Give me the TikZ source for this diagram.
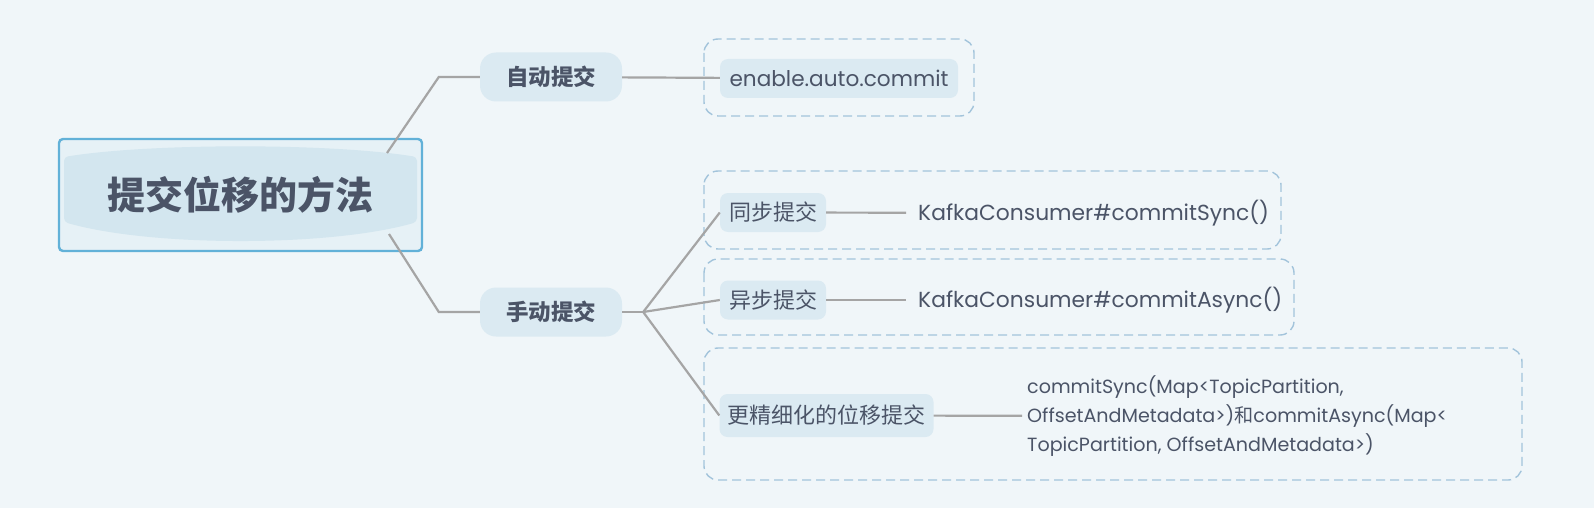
\documentclass[tikz,border=0pt]{standalone}
\usepackage{fontspec}
\setmainfont{Poppins}
\newfontfamily\cjk{Noto Sans CJK SC}
\usepackage{tikz}
\usetikzlibrary{positioning,calc}
\definecolor{PaperBlue}{HTML}{F0F6F9}
\definecolor{RootBorder}{HTML}{62B1D8}
\definecolor{RootFill}{HTML}{E6F1F6}
\definecolor{LensBlue}{HTML}{D3E6EF}
\definecolor{SoftBlue}{HTML}{DBEAF2}
\definecolor{DashBlue}{HTML}{A3C4DB}
\definecolor{InkGray}{HTML}{4B5467}
\definecolor{LineGray}{HTML}{A5A5A5}

\begin{document}
\begin{tikzpicture}[x=1pt, y=-1pt, every node/.style={text=InkGray}]
\tikzset{rootbox/.style={draw=RootBorder, line width=2.4pt, rounded corners=4pt, fill=RootFill,
  minimum width=363pt, minimum height=112pt, font=\cjk\fontsize{38}{44}\selectfont\bfseries,
  path picture={\fill[LensBlue] ($(path picture bounding box.north west)+(5,18)$)
    .. controls ($(path picture bounding box.north)+(-90,4)$) and ($(path picture bounding box.north)+(90,4)$)
    .. ($(path picture bounding box.north east)+(-5,18)$)
    -- ($(path picture bounding box.south east)+(-5,-29)$)
    .. controls ($(path picture bounding box.south)+(90,-4)$) and ($(path picture bounding box.south)+(-90,-4)$)
    .. ($(path picture bounding box.south west)+(5,-29)$) -- cycle;}}}
\tikzset{topic/.style={fill=SoftBlue, rounded corners=16pt, minimum width=142pt, minimum height=49pt, inner xsep=0pt,
  font=\cjk\fontsize{22.5}{26}\selectfont\bfseries}}
\tikzset{tag/.style={fill=SoftBlue, rounded corners=8pt, minimum height=39pt, inner xsep=8pt,
  font=\fontsize{21.6}{26}\selectfont}}
\tikzset{cjktag/.style={tag, font=\cjk\fontsize{22}{26}\selectfont}}
\tikzset{leaf/.style={inner xsep=12pt, inner ysep=0pt, align=left, font=\fontsize{21.8}{29}\selectfont}}
\tikzset{group/.style={draw=DashBlue, line width=1.4pt, dash pattern=on 9pt off 5pt, rounded corners=14pt, fill=PaperBlue}}
\tikzset{link/.style={draw=LineGray, line width=2.2pt}}
\useasboundingbox[fill=PaperBlue] (0,0) rectangle (1594,508);
% dashed groups
\draw[group] (704,39) rectangle (974,116);
\draw[group] (704,171) rectangle (1281,249);
\draw[group] (704,259) rectangle (1294,335);
\draw[group] (704,348) rectangle (1522,480);
% nodes
\node[rootbox] (root) at (240.5,195) {提交位移的方法};
\node[topic] (auto) at (551,77) {自动提交};
\node[topic] (manual) at (551,312) {手动提交};
\node[tag, minimum width=238pt] (enable) at (839,78.5) {enable.auto.commit};
\node[cjktag, minimum width=106pt] (sync) at (773,212.5) {同步提交};
\node[cjktag, minimum width=106pt] (async) at (773,300) {异步提交};
\node[cjktag, minimum width=213pt, minimum height=43pt] (fine) at (826.5,415.5) {更精细化的位移提交};
\node[leaf, anchor=west] (synctxt) at (906,213) {KafkaConsumer\#commitSync()};
\node[leaf, anchor=west] (asynctxt) at (906,300) {KafkaConsumer\#commitAsync()};
\node[leaf, anchor=west, inner xsep=5pt, font=\fontsize{19.1}{29}\selectfont] (finetxt) at (1022,416)
  {commitSync(Map<TopicPartition,\\OffsetAndMetadata>){\cjk 和}commitAsync(Map<\\TopicPartition, OffsetAndMetadata>)};
% connectors
\coordinate (rootup) at (387,153);
\coordinate (rootdown) at (389,234);
\coordinate (fork) at ($(manual.east)+(21,0)$);
\draw[link] (rootup) -- ($(auto.west)+(-41,0)$) -- (auto.west);
\draw[link] (rootdown) -- ($(manual.west)+(-41,0)$) -- (manual.west);
\draw[link] (auto) -- (enable);
\draw[link] (manual) -- (fork);
\draw[link] (fork) -- (sync.west);
\draw[link] (fork) -- (async.west);
\draw[link] (fork) -- (fine.west);
\draw[link] (sync) -- (synctxt);
\draw[link] (async) -- (asynctxt);
\draw[link] (fine) -- (finetxt);
\end{tikzpicture}
\end{document}
